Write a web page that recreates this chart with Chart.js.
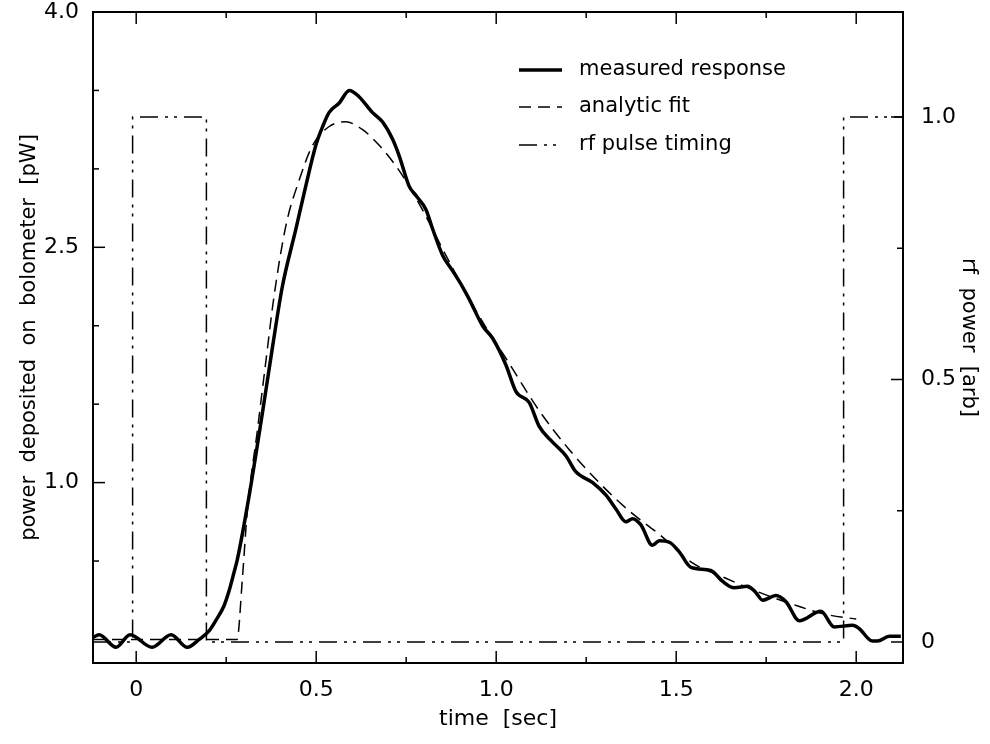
<!DOCTYPE html>
<html><head><meta charset="utf-8">
<script src="https://cdn.jsdelivr.net/npm/chart.js@4.4.1/dist/chart.umd.min.js"></script>
<style>html,body{margin:0;padding:0;background:#fff;}canvas{display:block;}</style>
</head><body>
<canvas id="c" width="990" height="744"></canvas>
<script>
// ---- data ----
const timeMeasured = [-0.122,-0.103,-0.056,-0.017,0.044,0.097,0.142,0.175,0.203,0.221,0.244,0.258,0.272,0.281,0.314,0.351,0.379,0.406,0.444,0.471,0.499,0.518,0.536,0.564,0.592,0.619,0.656,0.684,0.712,0.731,0.758,0.777,0.805,0.823,0.851,0.879,0.906,0.925,0.962,0.990,1.027,1.055,1.092,1.119,1.156,1.194,1.221,1.268,1.305,1.333,1.360,1.379,1.402,1.434,1.453,1.481,1.508,1.541,1.596,1.629,1.661,1.698,1.721,1.740,1.777,1.805,1.842,1.902,1.939,1.990,2.008,2.045,2.059,2.092,2.124];
const powerMeasured = [0.01,0.03,-0.05,0.03,-0.05,0.03,-0.05,0.00,0.056,0.12,0.215,0.31,0.43,0.51,0.92,1.45,1.87,2.25,2.62,2.89,3.15,3.27,3.36,3.42,3.50,3.46,3.36,3.30,3.19,3.08,2.89,2.83,2.74,2.62,2.45,2.35,2.25,2.17,2.00,1.92,1.75,1.58,1.51,1.36,1.26,1.17,1.07,1.00,0.92,0.83,0.75,0.77,0.73,0.60,0.63,0.62,0.56,0.46,0.44,0.37,0.33,0.34,0.30,0.25,0.28,0.24,0.12,0.18,0.08,0.09,0.07,-0.01,-0.01,0.02,0.02];
const timeFit = [-0.12,0.28,0.295,0.309,0.337,0.360,0.383,0.416,0.453,0.490,0.536,0.582,0.629,0.675,0.721,0.758,0.795,0.869,0.953,1.036,1.119,1.203,1.286,1.369,1.453,1.544,1.638,1.731,1.842,1.916,2.0];
const powerFit = [0,0,0.39,0.83,1.34,1.77,2.19,2.64,2.93,3.15,3.27,3.30,3.25,3.15,3.02,2.89,2.74,2.41,2.06,1.76,1.46,1.21,1.00,0.82,0.67,0.49,0.39,0.30,0.21,0.16,0.13];
const timeRf = [-0.12,-0.01,-0.01,0.195,0.195,1.965,1.965,2.13];
const rfPower = [0,0,1.0,1.0,0,0,1.0,1.0];

const seriesNames = ['measured response','analytic fit','rf pulse timing'];
const xTickValues = [0,0.25,0.5,0.75,1.0,1.25,1.5,1.75,2.0];
const xTickLabels = ['0','','0.5','','1.0','','1.5','','2.0'];
const leftTickValues = [0.5,1.0,1.5,2.0,2.5,3.0,3.5,4.0];
const leftTickLabels = ['','1.0','','','2.5','','','4.0'];
const rightTickValues = [0,0.25,0.5,0.75,1.0];
const rightTickLabels = ['0','','0.5','','1.0'];

const FONT = "'DejaVu Sans', sans-serif";
Chart.defaults.color = '#000';
Chart.defaults.font.family = FONT;

const zip = (xs, ys) => xs.map((x, i) => ({x, y: ys[i]}));
const labelFor = (vals, labs) => (v) => { const i = vals.findIndex(t => Math.abs(t - v) < 1e-9); return i >= 0 ? labs[i] : ''; };
const setTicks = (vals) => (scale) => { scale.ticks = vals.map(v => ({value: v})); };
const fitBox = (w, h) => (s) => {
  if (w !== null) s.width = w;
  if (h !== null) s.height = h;
  s.paddingTop = 0; s.paddingBottom = 0; s.paddingLeft = 0; s.paddingRight = 0;
};

const frameTicks = {
  id: 'frameTicks',
  afterDraw(chart) {
    const {ctx, chartArea: {left, right, top, bottom}, scales: {x, y, y2}} = chart;
    ctx.save();
    ctx.strokeStyle = '#000';
    ctx.lineWidth = 2;
    ctx.strokeRect(left, top, right - left, bottom - top);
    ctx.lineWidth = 1.5;
    const seg = (a, b, c, d) => { ctx.beginPath(); ctx.moveTo(a, b); ctx.lineTo(c, d); ctx.stroke(); };
    const MAJ = 12, MIN = 6;
    x.ticks.forEach(t => {
      const p = x.getPixelForValue(t.value);
      const L = labelFor(xTickValues, xTickLabels)(t.value) ? MAJ : MIN;
      seg(p, bottom, p, bottom - L); seg(p, top, p, top + L);
    });
    y.ticks.forEach(t => {
      const p = y.getPixelForValue(t.value);
      const L = labelFor(leftTickValues, leftTickLabels)(t.value) ? MAJ : MIN;
      seg(left, p, left + L, p);
    });
    y2.ticks.forEach(t => {
      const p = y2.getPixelForValue(t.value);
      const L = labelFor(rightTickValues, rightTickLabels)(t.value) ? MAJ : MIN;
      seg(right, p, right - L, p);
    });
    ctx.restore();
  }
};

const innerLegend = {
  id: 'innerLegend',
  afterDraw(chart) {
    const {ctx} = chart;
    ctx.save();
    ctx.font = '21px ' + FONT;
    ctx.fillStyle = '#000';
    ctx.textBaseline = 'middle';
    const rows = [70, 107, 145];
    chart.data.datasets.forEach((ds, i) => {
      const yy = rows[i];
      ctx.strokeStyle = '#000';
      ctx.lineWidth = ds.borderWidth;
      ctx.setLineDash(ds.borderDash || []);
      ctx.beginPath(); ctx.moveTo(519, yy); ctx.lineTo(562, yy); ctx.stroke();
      ctx.setLineDash([]);
      ctx.fillText(ds.label, 579, yy);
    });
    ctx.restore();
  }
};

new Chart(document.getElementById('c'), {
  type: 'line',
  data: {
    datasets: [
      {label: seriesNames[0], data: zip(timeMeasured, powerMeasured), yAxisID: 'y', borderColor: '#000', borderWidth: 3.5, pointRadius: 0, cubicInterpolationMode: 'monotone', borderJoinStyle: 'round', order: 0},
      {label: seriesNames[1], data: zip(timeFit, powerFit), yAxisID: 'y', borderColor: '#000', borderWidth: 1.5, borderDash: [12, 7], pointRadius: 0, cubicInterpolationMode: 'monotone', order: 1},
      {label: seriesNames[2], data: zip(timeRf, rfPower), yAxisID: 'y2', borderColor: '#000', borderWidth: 1.5, borderDash: [18, 7, 3, 6, 3, 7], pointRadius: 0, tension: 0, order: 2}
    ]
  },
  options: {
    responsive: false,
    animation: false,
    layout: {padding: {top: 12, left: 0, right: 0, bottom: 0}},
    plugins: {legend: {display: false}, tooltip: {enabled: false}},
    scales: {
      x: {
        type: 'linear', position: 'bottom', min: -0.12, max: 2.13,
        grid: {display: false, drawTicks: false}, border: {display: false},
        afterBuildTicks: setTicks(xTickValues),
        afterFit: fitBox(null, 81),
        ticks: {autoSkip: false, maxRotation: 0, padding: 14, font: {size: 22}, callback: labelFor(xTickValues, xTickLabels)},
        title: {display: true, text: 'time  [sec]', font: {size: 22}, padding: {top: 0, bottom: 12}}
      },
      y: {
        type: 'linear', position: 'left', min: -0.15, max: 4.0,
        grid: {display: false, drawTicks: false}, border: {display: false},
        afterBuildTicks: setTicks(leftTickValues),
        afterFit: fitBox(93, null),
        ticks: {autoSkip: false, padding: 14, font: {size: 22}, callback: labelFor(leftTickValues, leftTickLabels)},
        title: {display: true, text: 'power  deposited  on  bolometer  [pW]', font: {size: 21}, padding: {top: 17, bottom: 0}}
      },
      y2: {
        type: 'linear', position: 'right', min: -0.04, max: 1.2,
        grid: {display: false, drawTicks: false}, border: {display: false},
        afterBuildTicks: setTicks(rightTickValues),
        afterFit: fitBox(87, null),
        ticks: {autoSkip: false, padding: 18, font: {size: 22}, callback: labelFor(rightTickValues, rightTickLabels)},
        title: {display: true, text: 'rf  power  [arb]', font: {size: 21}, padding: {top: 9, bottom: 0}}
      }
    }
  },
  plugins: [frameTicks, innerLegend]
});
</script>
</body></html>
